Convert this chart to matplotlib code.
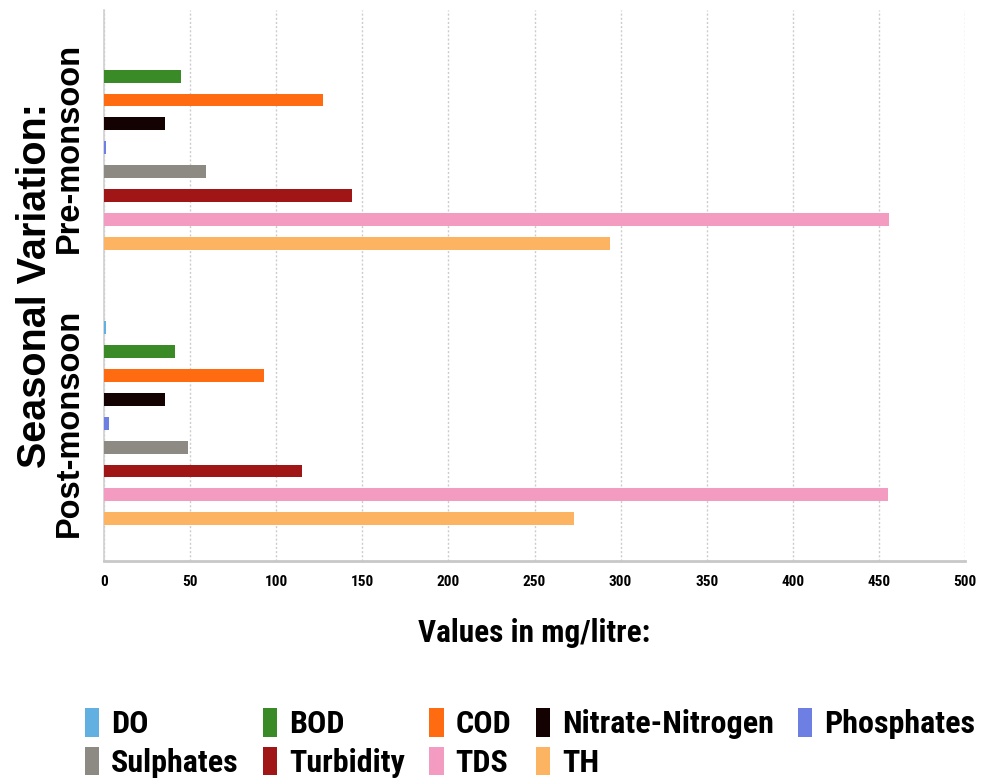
import matplotlib
matplotlib.use("Agg")
import matplotlib.pyplot as plt
from matplotlib import font_manager
import numpy as np

categories = ["Pre-monsoon", "Post-monsoon"]
series = ["DO", "BOD", "COD", "Nitrate-Nitrogen", "Phosphates",
          "Sulphates", "Turbidity", "TDS", "TH"]
DO = [0.0, 1.0]
BOD = [45, 41]
COD = [127, 93]
Nitrate_Nitrogen = [35.5, 35.5]
Phosphates = [1.4, 3]
Sulphates = [59, 49]
Turbidity = [144, 115]
TDS = [456, 455]
TH = [294, 273]
values = [DO, BOD, COD, Nitrate_Nitrogen, Phosphates, Sulphates, Turbidity, TDS, TH]
colors = ["#62b0e2", "#3b8a28", "#ff6b10", "#140202", "#6e7fe4",
          "#8d8a84", "#a01515", "#f39bc0", "#fdb462"]
xticks = [0, 50, 100, 150, 200, 250, 300, 350, 400, 450, 500]

installed = {f.name for f in font_manager.fontManager.ttflist}
narrow = next((n for n in ["Roboto Condensed", "PT Sans Narrow", "Archivo Narrow"] if n in installed),
              "Liberation Sans")
wide = "Liberation Sans"

fig = plt.figure(figsize=(9.83, 7.82), dpi=100)
ax = fig.add_axes([104/983, 1-561/782, (965-104)/983, (561-10)/782])

slot = 0.0867
h = 0.047
y0 = np.arange(len(categories))
handles = []
for i, (name, vals, c) in enumerate(zip(series, values, colors)):
    b = ax.barh(y0 + (i-4)*slot, vals, height=h, color=c, lw=0, label=name, zorder=3)
    handles.append(b)

ax.set_xlim(0, 500)
ax.set_ylim(1.5, -0.5)
ax.set_xticks(xticks)
ax.set_xticklabels([str(t) for t in xticks], fontfamily=narrow, fontweight="bold", fontsize=11)
ax.set_yticks(y0)
ax.set_yticklabels(categories, rotation=90, va="center", ha="center",
                   fontfamily=wide, fontweight="bold", fontsize=23.5)
ax.tick_params(axis="both", length=0)
ax.tick_params(axis="y", pad=25)
ax.tick_params(axis="x", pad=10)

ax.grid(axis="x", linestyle=(0, (1.5, 1.5)), color="#cccccc", lw=1, zorder=0)
for s in ["top", "right"]:
    ax.spines[s].set_visible(False)
ax.spines["left"].set_color("#d0d0d0")
ax.spines["left"].set_linewidth(1.2)
ax.spines["bottom"].set_color("#c8c8c8")
ax.spines["bottom"].set_linewidth(2)

ax.set_xlabel("Values in mg/litre:", fontfamily=narrow, fontweight="bold", fontsize=22.5, labelpad=21)
ax.set_ylabel("Seasonal Variation:", fontfamily=wide, fontweight="bold", fontsize=28.5, labelpad=0)

# legend rows: DO BOD COD Nitrate Phosphates / Sulphates Turbidity TDS TH (column-major fill)
order = [0, 5, 1, 6, 2, 7, 3, 8, 4]
leg = fig.legend([handles[k] for k in order], [series[k] for k in order],
                 loc="upper left", bbox_to_anchor=(85/983, 1-708/782), ncol=5, frameon=False,
                 prop={"family": narrow, "weight": "bold", "size": 23},
                 handlelength=0.45, handleheight=1.0, handletextpad=0.37,
                 columnspacing=0.76, labelspacing=0.24, borderaxespad=0, borderpad=0)

fig.savefig("out.png", dpi=100, facecolor="white")
